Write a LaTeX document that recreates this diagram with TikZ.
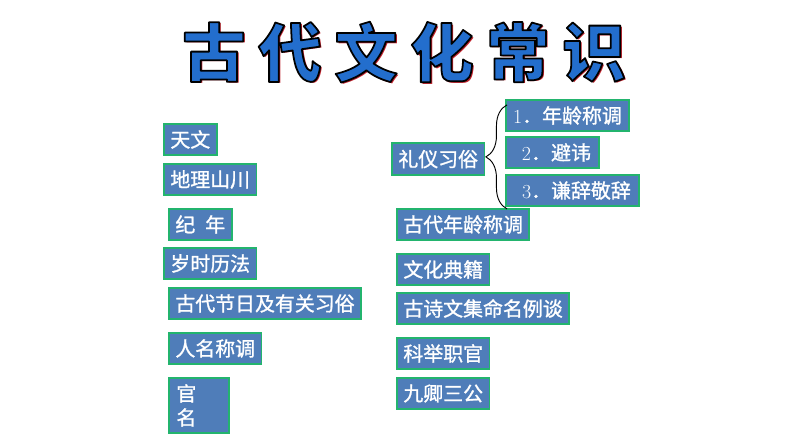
\documentclass[tikz,border=0pt]{standalone}
\usepackage{fontspec}
\newfontfamily\cjk{Noto Sans CJK SC}
\newfontfamily\cjkbox[FakeBold=1.2]{Noto Sans CJK SC}
\usetikzlibrary{positioning,decorations.pathreplacing}
\definecolor{boxblue}{RGB}{79,125,185}
\definecolor{boxgreen}{RGB}{35,180,110}
\definecolor{titleblue}{RGB}{35,110,205}
\definecolor{titlered}{RGB}{190,30,40}
\newcommand\outlined[1]{\special{pdf:literal direct 2 Tr 1.5 w 1 j 0 0 0 RG}#1\special{pdf:literal direct 0 Tr}}
\newcommand\shadowed[1]{\rlap{\hspace{1.5pt}\raisebox{-1.5pt}{\color{titlered}#1}}\outlined{#1}}

\begin{document}
\begin{tikzpicture}[x=0.03cm, y=-0.03cm]
        \tikzstyle{item}=[draw=boxgreen, line width=1.6pt, fill=boxblue, text=white, font=\cjkbox\fontsize{17pt}{20.5pt}\selectfont, anchor=north west, minimum height=26.5pt, inner xsep=5.5pt, inner ysep=0pt]
        \tikzstyle{big}=[font=\cjk\bfseries\fontsize{54pt}{54pt}\selectfont, inner sep=0pt]

        \useasboundingbox (0,0) rectangle (794,447);

        % title
        \foreach \c [count=\i from 0] in {古,代,文,化,常,识}
            \node[big, text=titleblue] (t\i) at (214+76*\i, 53) {\shadowed{\c}};

        % left column
        \node[item] (tw) at (163,123) {天文};
        \node[item] (dl) at (163,163) {地理山川};
        \node[item] (jn) at (168,208) {纪\hspace{0.5em}年};
        \node[item] (sl) at (163,247) {岁时历法};
        \node[item] (jr) at (168,287) {古代节日及有关习俗};
        \node[item] (rm) at (168,332) {人名称调};
        \node[item, align=left, text width=38.4pt, inner xsep=6.4pt, minimum height=47pt] (gm) at (168,377) {官\\名};

        % right column
        \node[item, minimum height=27.5pt] (ly) at (391,142) {礼仪习俗};
        \node[item, minimum width=105pt] (n1) at (505,99) {{\rmfamily 1}．年龄称调};
        \node[item, minimum width=79.4pt] (n2) at (505,136) {\hspace{0.4em}{\rmfamily 2}．避讳};
        \node[item, minimum width=113.5pt] (n3) at (505,174) {\hspace{0.4em}{\rmfamily 3}．谦辞敬辞};
        \node[item] (nl) at (396,208) {古代年龄称调};
        \node[item] (dj) at (396,253) {文化典籍};
        \node[item] (gs) at (396,292) {古诗文集命名例谈};
        \node[item] (kj) at (396,337) {科举职官};
        \node[item] (jq) at (396,377) {九卿三公};

        \draw[decorate, decoration={brace, amplitude=18pt}, line width=0.8pt]
            ([xshift=1.7pt, yshift=-1.7pt]n3.south west) -- ([xshift=1.7pt, yshift=-5pt]n1.north west);

    \end{tikzpicture}
\end{document}
